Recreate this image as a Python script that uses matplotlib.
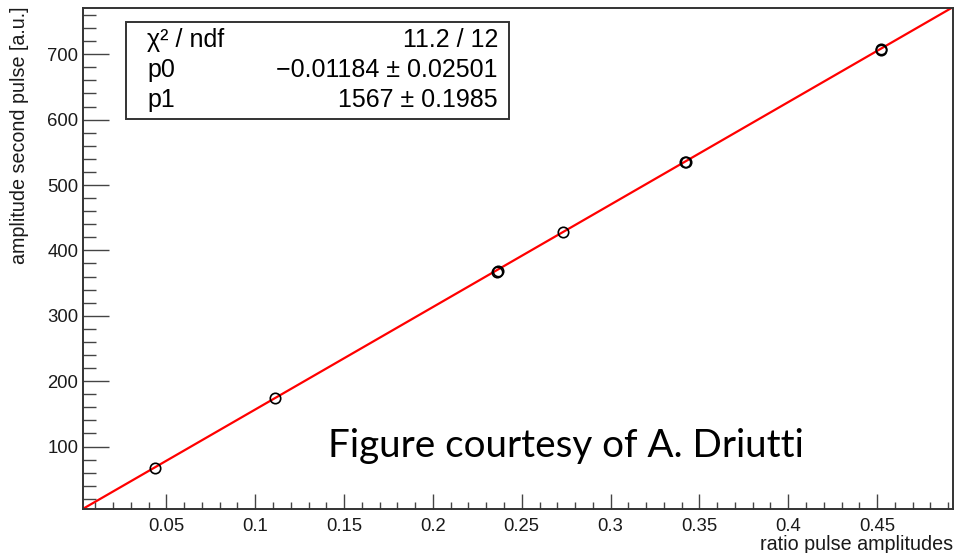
import matplotlib.pyplot as plt
from matplotlib.patches import Rectangle
from matplotlib.ticker import MultipleLocator
import numpy as np

# measured points: pulse amplitude ratio vs amplitude of the second pulse
ratio = [0.0438, 0.111, 0.236, 0.2365, 0.273, 0.342, 0.3422, 0.452, 0.4522]
amp2 = [67.4, 173.5, 367.5, 368.5, 427.5, 534.8, 535.6, 707.0, 707.8]

# linear fit result  y = p0 + p1*x
p0 = -0.01184
p1 = 1567.0
fit_labels = ["\u03c7\u00b2 / ndf", "p0", "p1"]
fit_values = ["11.2 / 12", "\u22120.01184 \u00b1 0.02501", "1567 \u00b1 0.1985"]

xmin, xmax = 0.0032, 0.4928
ymin, ymax = 4.0, 771.5

plt.rcParams['font.family'] = ['Liberation Sans', 'DejaVu Sans']

fig = plt.figure(figsize=(9.55, 5.53), dpi=100)
ax = fig.add_axes([0.0872, 0.079, 0.998 - 0.0872, 0.9864 - 0.079])

xs = np.linspace(xmin, xmax, 200)
ax.plot(xs, p0 + p1 * xs, color='#ff0000', lw=1.6, zorder=2)
ax.plot(ratio, amp2, 'o', mfc='none', mec='black', ms=7.5, mew=1.2, zorder=3)

ax.set_xlim(xmin, xmax)
ax.set_ylim(ymin, ymax)

ax.xaxis.set_major_locator(MultipleLocator(0.05))
ax.xaxis.set_minor_locator(MultipleLocator(0.01))
ax.yaxis.set_major_locator(MultipleLocator(100))
ax.yaxis.set_minor_locator(MultipleLocator(20))
ax.xaxis.set_major_formatter(plt.FuncFormatter(lambda v, p: ('%g' % round(v, 3))))
ax.yaxis.set_major_formatter(plt.FuncFormatter(lambda v, p: '%d' % v))

ax.tick_params(axis='both', which='both', direction='in', colors='#444444',
               labelcolor='#1a1a1a', labelsize=13.3, width=1.0)
ax.tick_params(axis='x', which='major', length=10.5, pad=6)
ax.tick_params(axis='x', which='minor', length=5.3)
ax.tick_params(axis='y', which='major', length=18.5, pad=3.5)
ax.tick_params(axis='y', which='minor', length=9.3)

for s in ax.spines.values():
    s.set_color('#333333')
    s.set_linewidth(1.4)

fig.text(953, 553 - 544, "ratio pulse amplitudes", transform=None,
         ha='right', va='center', fontsize=14.2, color='#1a1a1a')
fig.text(20, 553 - 6, "amplitude second pulse [a.u.]", transform=None,
         rotation=90, ha='center', va='top', fontsize=14.2, color='#1a1a1a')

# fit statistics box
fig.add_artist(Rectangle((126, 553 - 119), 383, 97.5, transform=None,
                         fill=True, facecolor='white', edgecolor='#333333', lw=1.4, zorder=5))
rows_y = [40, 70, 100]
for lab, val, yy in zip(fit_labels, fit_values, rows_y):
    fig.text(147, 553 - yy, lab, transform=None, ha='left', va='center',
             fontsize=18, color='black', zorder=6)
    fig.text(498, 553 - yy, val, transform=None, ha='right', va='center',
             fontsize=18, color='black', zorder=6)

fig.text(328, 553 - 457, "Figure courtesy of A. Driutti", transform=None,
         ha='left', va='baseline', fontsize=27.8, family=['Lato', 'DejaVu Sans'], color='black')

fig.savefig('out.png', dpi=100)
